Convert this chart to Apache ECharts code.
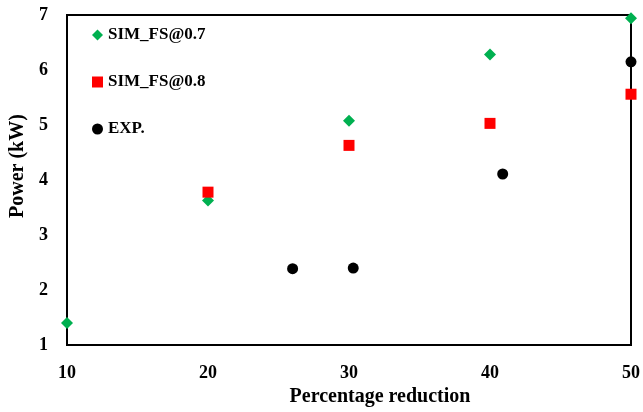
<!DOCTYPE html>
<html lang="en">
<head>
    <meta charset="UTF-8">
    <title>Power vs percentage reduction</title>
    <style>
        html, body { margin: 0; padding: 0; background: #fff; }
    </style>
</head>
<body>
    <div id="main" style="width: 643px;height:412px;"></div>

    <script src="https://cdn.jsdelivr.net/npm/echarts@6/dist/echarts.min.js"></script>
    <script>
        const chart = echarts.init(document.getElementById('main'));

        // values
        const fs07X = [10, 20, 30, 40, 50];
        const fs07Y = [1.4, 3.63, 5.08, 6.28, 6.94];

        const fs08X = [20, 30, 40, 50];
        const fs08Y = [3.78, 4.63, 5.03, 5.56];

        const expX = [26, 30.3, 40.9, 50];
        const expY = [2.39, 2.4, 4.11, 6.15];

        const pairs = (xs, ys) => xs.map((x, i) => [x, ys[i]]);

        const font = 'Liberation Serif';

        option = {
            animation: false,
            grid: {
                left: 63,
                right: 11,
                top: 15,
                bottom: 63,
                show: true,
                borderColor: '#000',
                borderWidth: 2
            },
            legend: {
                orient: 'vertical',
                left: 92,
                top: 25,
                padding: 0,
                itemWidth: 11,
                itemHeight: 11,
                itemGap: 27,
                textStyle: {
                    fontFamily: font,
                    fontWeight: 'bold',
                    fontSize: 17,
                    lineHeight: 20,
                    color: '#000'
                }
            },
            xAxis: {
                type: 'value',
                min: 10,
                max: 50,
                interval: 10,
                name: 'Percentage reduction',
                nameLocation: 'middle',
                nameGap: 40,
                nameTextStyle: {
                    fontFamily: font,
                    fontWeight: 'bold',
                    fontSize: 20,
                    color: '#000',
                    padding: [0, 0, 0, 62]
                },
                axisLine: { lineStyle: { color: '#000', width: 2 } },
                axisTick: { show: false },
                splitLine: { show: false },
                axisLabel: {
                    margin: 19,
                    fontFamily: font,
                    fontWeight: 'bold',
                    fontSize: 18,
                    color: '#000'
                }
            },
            yAxis: {
                type: 'value',
                min: 1,
                max: 7,
                interval: 1,
                name: 'Power (kW)',
                nameLocation: 'middle',
                nameGap: 39,
                nameTextStyle: {
                    fontFamily: font,
                    fontWeight: 'bold',
                    fontSize: 20,
                    color: '#000',
                    padding: [0, 0, 0, 28]
                },
                axisLine: { show: true, lineStyle: { color: '#000', width: 2 } },
                axisTick: { show: false },
                splitLine: { show: false },
                axisLabel: {
                    margin: 19,
                    fontFamily: font,
                    fontWeight: 'bold',
                    fontSize: 18,
                    color: '#000'
                }
            },
            series: [
                {
                    name: 'SIM_FS@0.7',
                    type: 'scatter',
                    symbol: 'diamond',
                    symbolSize: 12,
                    clip: false,
                    itemStyle: { color: '#00B050', opacity: 1 },
                    data: pairs(fs07X, fs07Y)
                },
                {
                    name: 'SIM_FS@0.8',
                    type: 'scatter',
                    symbol: 'rect',
                    symbolSize: 11,
                    clip: false,
                    itemStyle: { color: '#FF0000', opacity: 1 },
                    data: pairs(fs08X, fs08Y)
                },
                {
                    name: 'EXP.',
                    type: 'scatter',
                    symbol: 'circle',
                    symbolSize: 11,
                    clip: false,
                    itemStyle: { color: '#000', opacity: 1 },
                    data: pairs(expX, expY)
                }
            ]
        };

        chart.setOption(option);
    </script>
</body>
</html>
